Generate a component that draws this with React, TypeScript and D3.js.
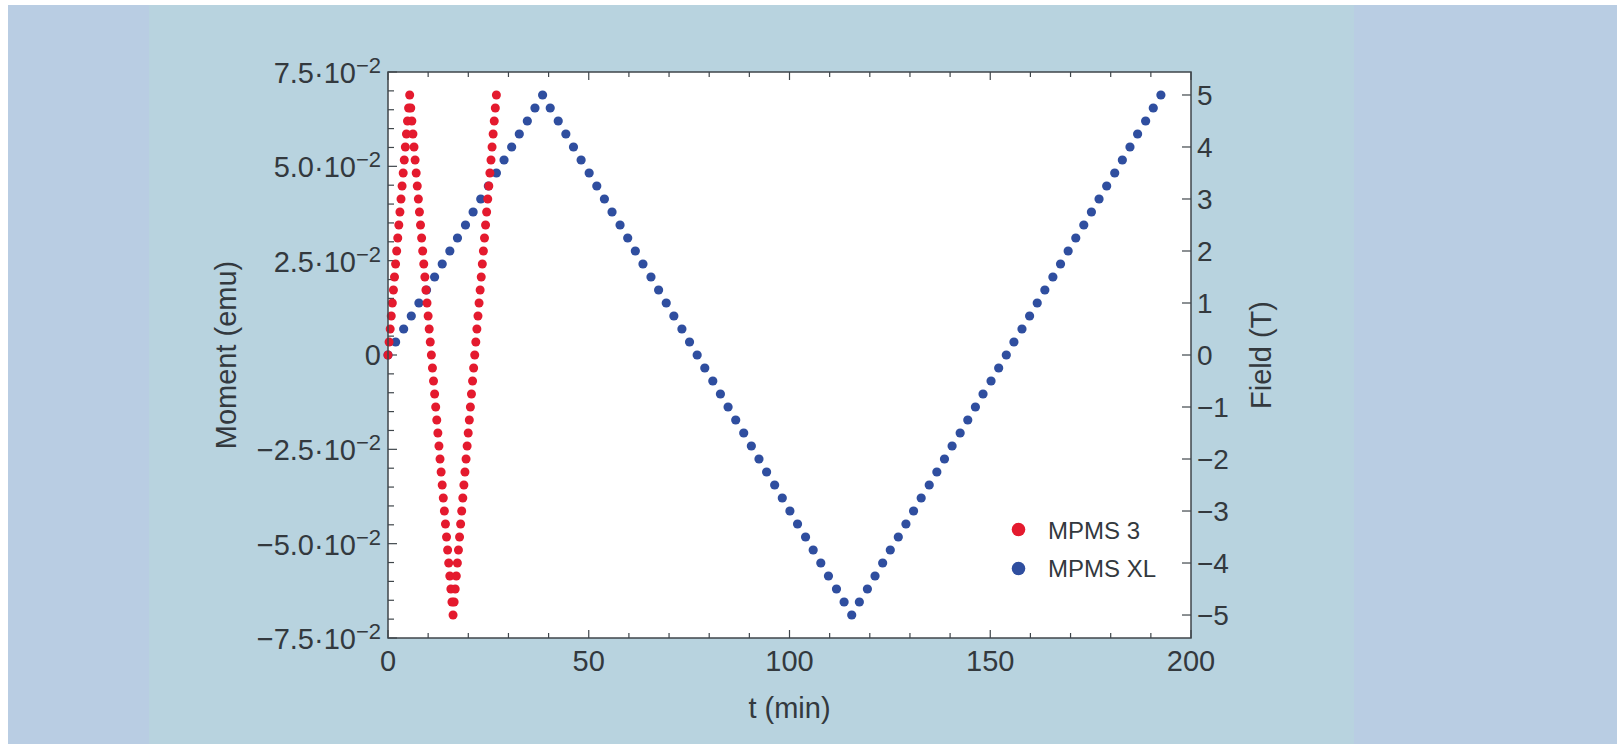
import React from 'react';
import * as d3 from 'd3';

// ---- data ----
const seriesNames = ['MPMS 3', 'MPMS XL'];

const mpms3Time = [
  0, 0.27, 0.54, 0.81, 1.08, 1.35, 1.62, 1.89, 2.16, 2.43, 2.7, 2.97, 3.24, 3.51, 3.78, 4.05, 4.32, 4.59, 4.86, 5.13, 5.4,
  5.67, 5.94, 6.21, 6.48, 6.75, 7.02, 7.29, 7.56, 7.83, 8.1, 8.37, 8.64, 8.91, 9.18, 9.45, 9.72, 9.99, 10.26, 10.53, 10.8,
  11.07, 11.34, 11.61, 11.88, 12.15, 12.42, 12.69, 12.96, 13.23, 13.5, 13.77, 14.04, 14.31, 14.58, 14.85, 15.12, 15.39, 15.66, 15.93, 16.2,
  16.47, 16.74, 17.01, 17.28, 17.55, 17.82, 18.09, 18.36, 18.63, 18.9, 19.17, 19.44, 19.71, 19.98, 20.25, 20.52, 20.79, 21.06, 21.33, 21.6,
  21.87, 22.14, 22.41, 22.68, 22.95, 23.22, 23.49, 23.76, 24.03, 24.3, 24.57, 24.84, 25.11, 25.38, 25.65, 25.92, 26.19, 26.46, 26.73, 27.0,
];
const mpms3Field = [
  0, 0.25, 0.5, 0.75, 1, 1.25, 1.5, 1.75, 2, 2.25, 2.5, 2.75, 3, 3.25, 3.5, 3.75, 4, 4.25, 4.5, 4.75, 5,
  4.75, 4.5, 4.25, 4, 3.75, 3.5, 3.25, 3, 2.75, 2.5, 2.25, 2, 1.75, 1.5, 1.25, 1, 0.75, 0.5, 0.25, 0,
  -0.25, -0.5, -0.75, -1, -1.25, -1.5, -1.75, -2, -2.25, -2.5, -2.75, -3, -3.25, -3.5, -3.75, -4, -4.25, -4.5, -4.75, -5,
  -4.75, -4.5, -4.25, -4, -3.75, -3.5, -3.25, -3, -2.75, -2.5, -2.25, -2, -1.75, -1.5, -1.25, -1, -0.75, -0.5, -0.25, 0,
  0.25, 0.5, 0.75, 1, 1.25, 1.5, 1.75, 2, 2.25, 2.5, 2.75, 3, 3.25, 3.5, 3.75, 4, 4.25, 4.5, 4.75, 5,
];

const mpmsXLTime = [
  0, 1.9, 3.9, 5.8, 7.7, 9.6, 11.6, 13.5, 15.4, 17.3, 19.3, 21.2, 23.1, 25.0, 27.0, 28.9, 30.8, 32.7, 34.7, 36.6, 38.5,
  40.4, 42.4, 44.3, 46.2, 48.1, 50.1, 52.0, 53.9, 55.8, 57.8, 59.7, 61.6, 63.5, 65.5, 67.4, 69.3, 71.2, 73.2, 75.1, 77.0,
  78.9, 80.9, 82.8, 84.7, 86.6, 88.6, 90.5, 92.4, 94.3, 96.3, 98.2, 100.1, 102.0, 104.0, 105.9, 107.8, 109.7, 111.7, 113.6, 115.5,
  117.4, 119.4, 121.3, 123.2, 125.1, 127.1, 129.0, 130.9, 132.8, 134.8, 136.7, 138.6, 140.5, 142.5, 144.4, 146.3, 148.2, 150.2, 152.1, 154.0,
  155.9, 157.9, 159.8, 161.7, 163.6, 165.6, 167.5, 169.4, 171.3, 173.3, 175.2, 177.1, 179.0, 181.0, 182.9, 184.8, 186.7, 188.7, 190.6, 192.5,
];
const mpmsXLField = [
  0, 0.25, 0.5, 0.75, 1, 1.25, 1.5, 1.75, 2, 2.25, 2.5, 2.75, 3, 3.25, 3.5, 3.75, 4, 4.25, 4.5, 4.75, 5,
  4.75, 4.5, 4.25, 4, 3.75, 3.5, 3.25, 3, 2.75, 2.5, 2.25, 2, 1.75, 1.5, 1.25, 1, 0.75, 0.5, 0.25, 0,
  -0.25, -0.5, -0.75, -1, -1.25, -1.5, -1.75, -2, -2.25, -2.5, -2.75, -3, -3.25, -3.5, -3.75, -4, -4.25, -4.5, -4.75, -5,
  -4.75, -4.5, -4.25, -4, -3.75, -3.5, -3.25, -3, -2.75, -2.5, -2.25, -2, -1.75, -1.5, -1.25, -1, -0.75, -0.5, -0.25, 0,
  0.25, 0.5, 0.75, 1, 1.25, 1.5, 1.75, 2, 2.25, 2.5, 2.75, 3, 3.25, 3.5, 3.75, 4, 4.25, 4.5, 4.75, 5,
];

const timeMajorTicks = [0, 50, 100, 150, 200];
const timeTickLabels = ['0', '50', '100', '150', '200'];
const momentMajorTicks = [0.075, 0.05, 0.025, 0, -0.025, -0.05, -0.075];
const momentTickMantissa = ['7.5·10', '5.0·10', '2.5·10', '0', '−2.5·10', '−5.0·10', '−7.5·10'];
const momentTickExponent = ['−2', '−2', '−2', '', '−2', '−2', '−2'];
const fieldTicks = [5, 4, 3, 2, 1, 0, -1, -2, -3, -4, -5];
const fieldTickLabels = ['5', '4', '3', '2', '1', '0', '−1', '−2', '−3', '−4', '−5'];

// ---- style ----
const W = 1617;
const H = 744;
const FONT = "'Liberation Sans', Arial, Helvetica, sans-serif";
const TEXT = '#33393e';
const AXIS = '#3f464b';
const RED = '#e41a2e';
const BLUE = '#2f4e9f';

const plot = { left: 388, right: 1191, top: 72, bottom: 638 };

export default function App() {
  const x = d3.scaleLinear().domain([0, 200]).range([plot.left, plot.right]);
  const yMoment = d3.scaleLinear().domain([-0.075, 0.075]).range([plot.bottom, plot.top]);
  const yField = d3.scaleLinear().domain([-5.442, 5.442]).range([plot.bottom, plot.top]);

  const timeMinor = d3.range(0, 201, 10);
  const momentMinor = d3.range(-15, 16).map((k) => k * 0.005);

  const xl = mpmsXLTime.map((t, i) => ({ t, f: mpmsXLField[i] }));
  const m3 = mpms3Time.map((t, i) => ({ t, f: mpms3Field[i] }));

  return (
    <svg width={W} height={H} style={{ position: 'absolute', left: 0, top: 0, display: 'block' }}>
      <rect x={0} y={0} width={W} height={H} fill="#ffffff" />
      <rect x={8} y={5} width={W - 8} height={H - 5} fill="#b9cde3" />
      <rect x={149} y={5} width={1354 - 149} height={H - 5} fill="#b8d3df" />

      <rect x={plot.left} y={plot.top} width={plot.right - plot.left} height={plot.bottom - plot.top} fill="#ffffff" />

      {/* bottom & top ticks */}
      {timeMinor.map((v) => {
        const major = v % 50 === 0;
        const len = major ? 8 : 5;
        return (
          <g key={'tx' + v} stroke={AXIS} strokeWidth={1.2}>
            <line x1={x(v)} x2={x(v)} y1={plot.bottom} y2={plot.bottom - len} />
            <line x1={x(v)} x2={x(v)} y1={plot.top} y2={plot.top + len} />
          </g>
        );
      })}
      {/* left ticks */}
      {momentMinor.map((v, i) => {
        const major = Math.abs(Math.round(v * 1000) % 25) === 0;
        const len = major ? 9 : 6;
        return (
          <line key={'tm' + i} x1={plot.left} x2={plot.left + len} y1={yMoment(v)} y2={yMoment(v)} stroke={AXIS} strokeWidth={1.2} />
        );
      })}
      {/* right ticks */}
      {fieldTicks.map((v) => (
        <line key={'tf' + v} x1={plot.right - 9} x2={plot.right} y1={yField(v)} y2={yField(v)} stroke={AXIS} strokeWidth={1.2} />
      ))}

      {/* data */}
      {xl.map((d, i) => (
        <circle key={'b' + i} cx={x(d.t)} cy={yField(d.f)} r={4.6} fill={BLUE} />
      ))}
      {m3.map((d, i) => (
        <circle key={'r' + i} cx={x(d.t)} cy={yField(d.f)} r={4.5} fill={RED} />
      ))}

      <rect x={plot.left} y={plot.top} width={plot.right - plot.left} height={plot.bottom - plot.top} fill="none" stroke={AXIS} strokeWidth={1.5} />

      {/* tick labels */}
      <g fontFamily={FONT} fill={TEXT}>
        {timeMajorTicks.map((v, i) => (
          <text key={'lx' + v} x={x(v)} y={671} fontSize={29} textAnchor="middle">{timeTickLabels[i]}</text>
        ))}
        {momentMajorTicks.map((v, i) => (
          momentTickExponent[i] ? (
            <text key={'lm' + i} x={381} y={yMoment(v) + 11} fontSize={29} textAnchor="end">
              {momentTickMantissa[i]}
              <tspan dy={-10} fontSize={22}>{momentTickExponent[i]}</tspan>
            </text>
          ) : (
            <text key={'lm' + i} x={381} y={yMoment(v) + 10} fontSize={29} textAnchor="end">{momentTickMantissa[i]}</text>
          )
        ))}
        {fieldTicks.map((v, i) => (
          <text key={'lf' + v} x={1197} y={yField(v) + 10} fontSize={28} textAnchor="start">{fieldTickLabels[i]}</text>
        ))}

        {/* axis titles */}
        <text x={(plot.left + plot.right) / 2} y={718} fontSize={29} textAnchor="middle">t (min)</text>
        <text transform={`translate(236, ${(plot.top + plot.bottom) / 2}) rotate(-90)`} fontSize={29} textAnchor="middle">Moment (emu)</text>
        <text transform={`translate(1271, ${(plot.top + plot.bottom) / 2}) rotate(-90)`} fontSize={29} textAnchor="middle">Field (T)</text>

        {/* legend */}
        <circle cx={1018.5} cy={529.5} r={6.8} fill={RED} />
        <circle cx={1018.5} cy={568.5} r={6.8} fill={BLUE} />
        <text x={1048} y={539} fontSize={24}>{seriesNames[0]}</text>
        <text x={1048} y={577} fontSize={24}>{seriesNames[1]}</text>
      </g>
    </svg>
  );
}
